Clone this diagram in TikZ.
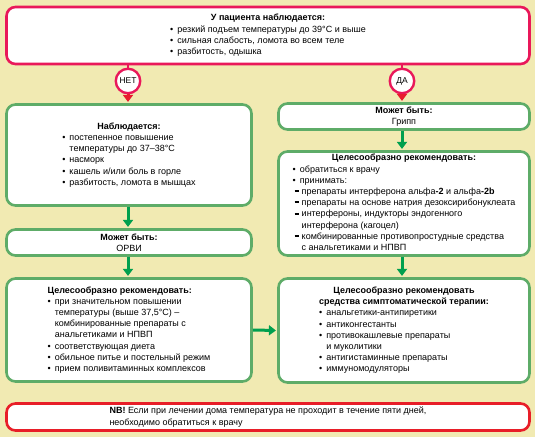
\documentclass[tikz,border=0pt]{standalone}
\usepackage{fontspec}
\setmainfont{Liberation Sans}
\usetikzlibrary{positioning, arrows.meta}

\definecolor{paper}{RGB}{241,234,178}
\definecolor{alarm}{RGB}{233,24,90}
\definecolor{nbred}{RGB}{232,30,40}
\definecolor{frame}{RGB}{94,172,104}
\definecolor{go}{RGB}{0,160,78}
\definecolor{stop}{RGB}{232,28,46}

\newcommand{\thickdash}{\rule[2.3pt]{4.5pt}{2.1pt}}

\begin{document}
\begin{tikzpicture}[
         x=1pt, y=-1pt,
         font=\fontsize{9}{11.2}\selectfont,
         panel/.style={draw, line width=2.6pt, rounded corners=9pt, fill=white, inner sep=0pt, align=center},
         symptoms/.style={panel, draw=alarm, minimum width=523pt, minimum height=57pt},
         advice/.style={panel, draw=frame},
         leftbox/.style={advice, minimum width=245pt},
         rightbox/.style={advice, minimum width=251pt},
         answer/.style={circle, draw=alarm, line width=2.4pt, fill=white, minimum size=24.5pt, inner sep=0pt, font=\fontsize{8.5}{9}\selectfont},
         flow/.style={line width=3pt, -{Triangle[width=10pt,length=7pt]}, shorten >=1.3pt}
      ]
         % Background
         \fill[paper] (0,0) rectangle (535,437);

         % Nodes for the question and the answers
         \node[symptoms] (signs) at (268,35.5) {\begin{tabular}{@{}l@{\hspace{4pt}}l@{}}
            \multicolumn{2}{@{}c@{}}{\textbf{У пациента наблюдается:}}\\
            • & резкий подъем температуры до 39°С и выше\\
            • & сильная слабость, ломота во всем теле\\
            • & разбитость, одышка
         \end{tabular}};
         \node[answer] (no) at (128,81) {НЕТ};
         \node[answer] (yes) at (402,81) {ДА};

         % Left column: cold
         \node[leftbox, minimum height=101pt] (cold) at (129,155) {\begin{tabular}{@{}l@{\hspace{4pt}}l@{}}
            \multicolumn{2}{@{}c@{}}{\textbf{Наблюдается:}}\\
            • & постепенное повышение\\
              & температуры до 37–38°С\\
            • & насморк\\
            • & кашель и/или боль в горле\\
            • & разбитость, ломота в мышцах
         \end{tabular}};
         \node[leftbox, minimum height=26pt] (orvi) at (129,242.5) {\textbf{Может быть:}\\ОРВИ};
         \node[leftbox, minimum height=103pt] (coldhelp) at (129,330) {\begin{tabular}{@{}l@{\hspace{4pt}}l@{}}
            \multicolumn{2}{@{}l@{}}{\textbf{Целесообразно рекомендовать:}}\\
            • & при значительном повышении\\
              & температуры (выше 37,5°С) –\\
              & комбинированные препараты с\\
              & анальгетиками и НПВП\\
            • & соответствующая диета\\
            • & обильное питье и постельный режим\\
            • & прием поливитаминных комплексов
         \end{tabular}};

         % Right column: flu
         \node[rightbox, minimum height=26pt] (flu) at (404,116.5) {\textbf{Может быть:}\\Грипп};
         \node[rightbox, minimum height=104pt] (fluhelp) at (404,203.5) {\begin{tabular}{@{}l@{\hspace{4pt}}l@{}}
            \multicolumn{2}{@{}c@{}}{\textbf{Целесообразно рекомендовать:}}\\
            • & обратиться к врачу\\
            • & принимать:\\
            \multicolumn{2}{@{\hspace{2pt}}l@{}}{\thickdash\ препараты интерферона альфа\textbf{-2} и альфа\textbf{-2b}}\\
            \multicolumn{2}{@{\hspace{2pt}}l@{}}{\thickdash\ препараты на основе натрия дезоксирибонуклеата}\\
            \multicolumn{2}{@{\hspace{2pt}}l@{}}{\thickdash\ интерфероны, индукторы эндогенного}\\
            \multicolumn{2}{@{\hspace{2pt}}l@{}}{\phantom{\thickdash\ }интерферона (кагоцел)}\\
            \multicolumn{2}{@{\hspace{2pt}}l@{}}{\thickdash\ комбинированные противопростудные средства}\\
            \multicolumn{2}{@{\hspace{2pt}}l@{}}{\phantom{\thickdash\ }с анальгетиками и НПВП}
         \end{tabular}};
         \node[rightbox, minimum height=104pt] (symptom) at (404,330.5) {\begin{tabular}{@{}l@{\hspace{4pt}}l@{}}
            \multicolumn{2}{@{}c@{}}{\textbf{Целесообразно рекомендовать}}\\
            \multicolumn{2}{@{}c@{}}{\textbf{средства симптоматической терапии:}}\\
            • & анальгетики-антипиретики\\
            • & антиконгестанты\\
            • & противокашлевые препараты\\
              & и муколитики\\
            • & антигистаминные препараты\\
            • & иммуномодуляторы
         \end{tabular}};

         % Warning
         \node[panel, draw=nbred, minimum width=523pt, minimum height=27pt, align=left] (nb) at (268,417)
            {\textbf{NB!} Если при лечении дома температура не проходит в течение пяти дней,\\необходимо обратиться к врачу};

         % Arrows
         \draw[alarm, line width=2.4pt] (signs.south -| no) -- (no.north);
         \draw[alarm, line width=2.4pt] (signs.south -| yes) -- (yes.north);
         \draw[flow, stop] (no.south) -- (no.south |- cold.north);
         \draw[flow, stop] (yes.south) -- (yes.south |- flu.north);
         \draw[flow, go] (cold.south -| no) -- (orvi.north -| no);
         \draw[flow, go] (orvi.south -| no) -- (coldhelp.north -| no);
         \draw[flow, go] (flu.south -| yes) -- (fluhelp.north -| yes);
         \draw[flow, go] (fluhelp.south -| yes) -- (symptom.north -| yes);
         \draw[flow, go] (coldhelp.east) -- (symptom.west);
      \end{tikzpicture}
\end{document}
